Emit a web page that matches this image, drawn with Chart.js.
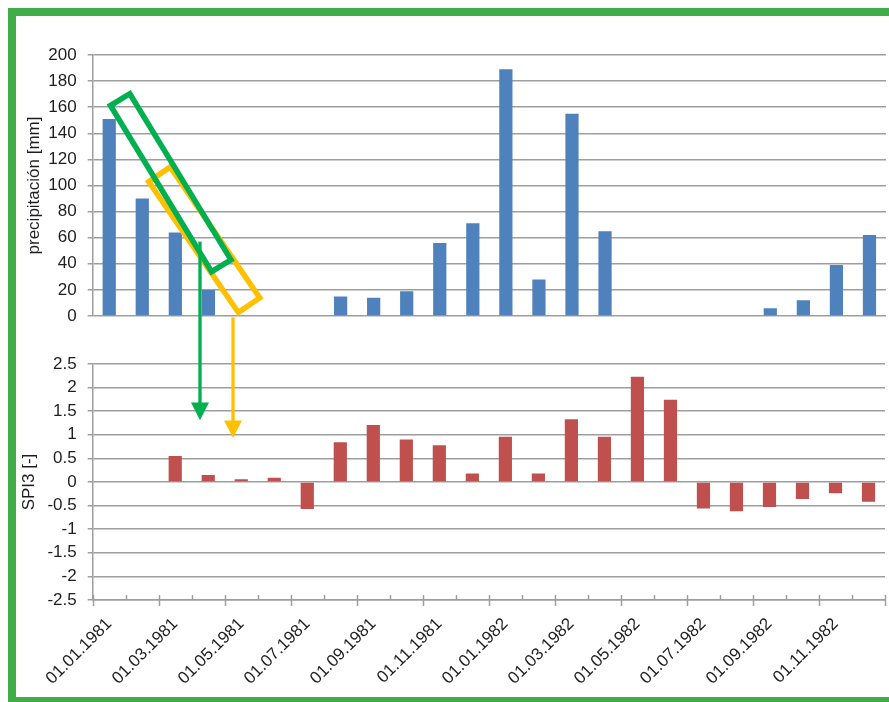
<!DOCTYPE html>
<html>
<head>
<meta charset="utf-8">
<script src="https://cdn.jsdelivr.net/npm/chart.js@4.4.1/dist/chart.umd.min.js"></script>
<style>
  html, body { margin: 0; padding: 0; background: #ffffff; }
  body { width: 889px; height: 702px; position: relative; overflow: hidden; }
  #frame {
    position: absolute; left: 8px; top: 8px; width: 1000px; height: 681px;
    border: 8px solid #41ad49; border-right: none;
  }
  canvas { position: absolute; left: 0; top: 0; }
</style>
</head>
<body>
<div id="frame"></div>
<canvas id="spiCanvas" width="889" height="702" style="width:889px;height:702px"></canvas>
<canvas id="rainCanvas" width="889" height="702" style="width:889px;height:702px"></canvas>
<script>
// Monthly categories (first day of each month)
const months = [
  '01.01.1981', '01.02.1981', '01.03.1981', '01.04.1981', '01.05.1981', '01.06.1981',
  '01.07.1981', '01.08.1981', '01.09.1981', '01.10.1981', '01.11.1981', '01.12.1981',
  '01.01.1982', '01.02.1982', '01.03.1982', '01.04.1982', '01.05.1982', '01.06.1982',
  '01.07.1982', '01.08.1982', '01.09.1982', '01.10.1982', '01.11.1982', '01.12.1982'
];

// Monthly precipitation [mm]
const precipitation = [
  151, 90, 64, 20, 0, 0,
  0, 15, 14, 19, 56, 71,
  189, 28, 155, 65, 0, 0,
  0, 0, 6, 12, 39, 62
];

// 3-month Standardized Precipitation Index
const spi3 = [
  null, null, 0.55, 0.15, 0.06, 0.09,
  -0.57, 0.84, 1.21, 0.90, 0.78, 0.18,
  0.96, 0.18, 1.33, 0.96, 2.23, 1.74,
  -0.56, -0.62, -0.53, -0.36, -0.24, -0.42
];

// Axis ranges and tick steps
const precipRange = [0, 200];
const precipStep = 20;
const spiRange = [-2.5, 2.5];
const spiStep = 0.5;

// Highlight boxes around the 3-month windows, in (month index, mm) units
const windowBoxes = [
  { from: [1.52, 108.6], to: [4.23, 8.3], width: 26, color: '#FFC000' },
  { from: [0.33, 165.8], to: [3.39, 38.5], width: 22.7, color: '#00B050' }
];

// Arrows from each window down to the resulting SPI3 value
const windowArrows = [
  { month: 3, shift: -0.25, fromMm: 57, toSpi: 1.31, color: '#00B050' },
  { month: 4, shift: -0.25, fromMm: -1, toSpi: 0.93, color: '#FFC000' }
];

const FONT_FAMILY = "'Liberation Sans', Arial, sans-serif";
const TEXT_COLOR = '#1e1e1e';
const GRID_COLOR = '#9e9e9e';
const GRID_WIDTH = 1.5;
const tickFont = { family: FONT_FAMILY, size: 17 };

function fmt(v) { return String(Number(v.toFixed(1))); }

// Tick marks on the shared month axis: long at labelled months, short in between
const monthTicks = {
  id: 'monthTicks',
  afterDraw(chart) {
    const s = chart.scales.x;
    const ctx = chart.ctx;
    ctx.save();
    ctx.strokeStyle = GRID_COLOR;
    ctx.lineWidth = GRID_WIDTH;
    for (let k = 0; k <= months.length; k++) {
      const x = Math.round(s.getPixelForValue(k - 0.5)) + 0.5;
      ctx.beginPath();
      ctx.moveTo(x, s.top - 5);
      ctx.lineTo(x, s.top + (k % 2 === 0 ? 6 : 0));
      ctx.stroke();
    }
    ctx.restore();
  }
};

const spiChart = new Chart(document.getElementById('spiCanvas'), {
  type: 'bar',
  data: {
    labels: months,
    datasets: [{
      data: spi3,
      backgroundColor: '#C0504D',
      barPercentage: 0.4,
      categoryPercentage: 1
    }]
  },
  options: {
    responsive: false,
    animation: false,
    devicePixelRatio: 1,
    layout: { padding: { left: 0, top: 364, right: 3, bottom: 0 } },
    plugins: { legend: { display: false }, tooltip: { enabled: false } },
    scales: {
      x: {
        offset: true,
        grid: { display: false },
        border: { display: true, color: GRID_COLOR, width: GRID_WIDTH },
        ticks: {
          autoSkip: false,
          maxRotation: 45,
          minRotation: 45,
          padding: 6,
          font: tickFont,
          color: TEXT_COLOR,
          callback: (v, i) => (i % 2 === 0 ? months[i] : '')
        },
        afterFit: (s) => { s.height = 102; }
      },
      y: {
        min: spiRange[0],
        max: spiRange[1],
        ticks: { stepSize: spiStep, padding: 11, font: tickFont, color: TEXT_COLOR, callback: fmt },
        grid: { color: GRID_COLOR, lineWidth: GRID_WIDTH, tickLength: 5, tickColor: GRID_COLOR },
        border: { display: true, color: GRID_COLOR, width: GRID_WIDTH },
        title: {
          display: true, text: 'SPI3 [-]', color: TEXT_COLOR,
          font: { family: FONT_FAMILY, size: 17 }, padding: { top: 19, bottom: 0 }
        },
        afterFit: (s) => { s.width = 92.7; }
      }
    }
  },
  plugins: [monthTicks]
});

// Rotated boxes and arrows linking precipitation windows to SPI3 values
const windowMarks = {
  id: 'windowMarks',
  afterDraw(chart) {
    const ctx = chart.ctx;
    const xs = chart.scales.x;
    const ys = chart.scales.y;
    const spiY = spiChart.scales.y;
    const spiX = spiChart.scales.x;
    ctx.save();
    ctx.lineJoin = 'miter';

    windowBoxes.forEach((b) => {
      const x1 = xs.getPixelForValue(b.from[0]), y1 = ys.getPixelForValue(b.from[1]);
      const x2 = xs.getPixelForValue(b.to[0]), y2 = ys.getPixelForValue(b.to[1]);
      const len = Math.hypot(x2 - x1, y2 - y1);
      const nx = -(y2 - y1) / len * b.width / 2;
      const ny = (x2 - x1) / len * b.width / 2;
      ctx.beginPath();
      ctx.moveTo(x1 + nx, y1 + ny);
      ctx.lineTo(x2 + nx, y2 + ny);
      ctx.lineTo(x2 - nx, y2 - ny);
      ctx.lineTo(x1 - nx, y1 - ny);
      ctx.closePath();
      ctx.strokeStyle = b.color;
      ctx.lineWidth = 5.5;
      ctx.stroke();
    });

    windowArrows.forEach((a) => {
      const step = spiX.getPixelForValue(1) - spiX.getPixelForValue(0);
      const x = spiX.getPixelForValue(a.month) + a.shift * step;
      const yStart = ys.getPixelForValue(a.fromMm);
      const yTip = spiY.getPixelForValue(a.toSpi);
      const head = 17.6, half = 9;
      ctx.strokeStyle = a.color;
      ctx.fillStyle = a.color;
      ctx.lineWidth = 3.3;
      ctx.beginPath();
      ctx.moveTo(x, yStart);
      ctx.lineTo(x, yTip - head + 1);
      ctx.stroke();
      ctx.beginPath();
      ctx.moveTo(x - half, yTip - head);
      ctx.lineTo(x + half, yTip - head);
      ctx.lineTo(x, yTip);
      ctx.closePath();
      ctx.fill();
    });
    ctx.restore();
  }
};

new Chart(document.getElementById('rainCanvas'), {
  type: 'bar',
  data: {
    labels: months,
    datasets: [{
      data: precipitation,
      backgroundColor: '#4F81BD',
      barPercentage: 0.4,
      categoryPercentage: 1
    }]
  },
  options: {
    responsive: false,
    animation: false,
    devicePixelRatio: 1,
    layout: { padding: { left: 0, top: 55, right: 3, bottom: 386 } },
    plugins: { legend: { display: false }, tooltip: { enabled: false } },
    scales: {
      x: { display: false, offset: true },
      y: {
        min: precipRange[0],
        max: precipRange[1],
        ticks: { stepSize: precipStep, padding: 11, font: tickFont, color: TEXT_COLOR },
        grid: { color: GRID_COLOR, lineWidth: GRID_WIDTH, tickLength: 5, tickColor: GRID_COLOR },
        border: { display: true, color: GRID_COLOR, width: GRID_WIDTH },
        title: {
          display: true, text: 'precipitación [mm]', color: TEXT_COLOR,
          font: { family: FONT_FAMILY, size: 17 }, padding: { top: 24, bottom: 0 }
        },
        afterFit: (s) => { s.width = 92.7; }
      }
    }
  },
  plugins: [windowMarks]
});
</script>
</body>
</html>
